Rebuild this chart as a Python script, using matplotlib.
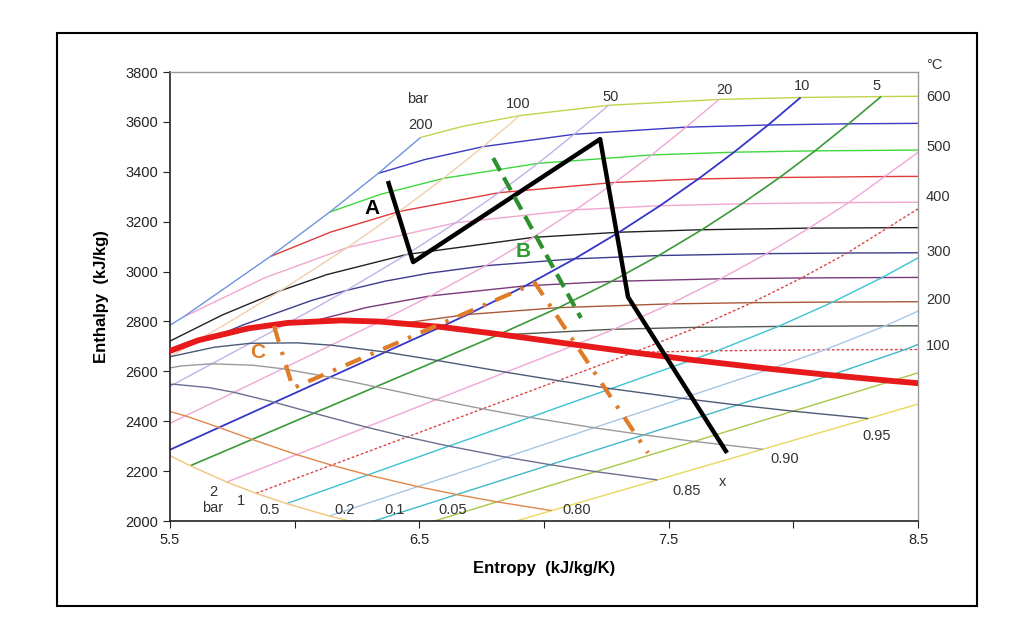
import matplotlib
matplotlib.use("Agg")
import matplotlib.pyplot as plt
from matplotlib.patches import Rectangle

plt.rcParams['font.family'] = ['Liberation Sans', 'DejaVu Sans']

# (entropy kJ/kg/K, enthalpy kJ/kg) points

# saturated vapour line, x = 1
sat_line = [(5.3098, 2610.5), (5.6141, 2724.7), (5.8133, 2772.1), (5.9734, 2794.3),
            (6.1869, 2804.2), (6.3409, 2799.5), (6.5865, 2778.1), (6.8213, 2748.7),
            (7.1271, 2706.7), (7.3594, 2675.5), (7.5939, 2645.9), (7.9085, 2609.7),
            (8.1502, 2584.7), (8.3951, 2561.5), (8.7235, 2533.6)]

# dryness fraction lines
q95 = [(5.2285, 2560.5), (5.5013, 2658.8), (5.6787, 2696.8), (5.8207, 2712.3), (6.0098, 2714.3),
       (6.1462, 2705.0), (6.3641, 2677.3), (6.5733, 2643.3), (6.8473, 2596.5), (7.0566, 2562.6),
       (7.2688, 2530.6), (7.5548, 2491.8), (7.7752, 2465.0), (7.9992, 2440.3), (8.3004, 2410.7)]
q90 = [(5.1472, 2510.5), (5.3886, 2593.0), (5.5441, 2621.6), (5.6681, 2630.3), (5.8328, 2624.5),
       (5.9516, 2610.4), (6.1417, 2576.6), (6.3252, 2537.9), (6.5674, 2486.4), (6.7537, 2449.7),
       (6.9436, 2415.4), (7.2009, 2373.9), (7.4001, 2345.3), (7.6032, 2319.1), (7.8772, 2287.7)]
q85 = [(5.2758, 2527.1), (5.4095, 2546.3), (5.5154, 2548.3), (5.6557, 2534.7), (5.7569, 2515.9),
       (5.9193, 2475.8), (6.0772, 2432.4), (6.2876, 2376.3), (6.4509, 2336.8), (6.6185, 2300.1),
       (6.8471, 2256.0), (7.0251, 2225.7), (7.2073, 2197.9), (7.4541, 2164.7)]
q80 = [(5.3628, 2466.3), (5.4787, 2445.0), (5.5622, 2421.4), (5.6969, 2375.0), (5.8292, 2327.0),
       (6.0077, 2266.2), (6.1480, 2223.9), (6.2933, 2184.8), (6.4933, 2138.0), (6.6500, 2106.0),
       (6.8114, 2076.8), (7.0309, 2041.7)]
q75 = [(5.3016, 2355.2), (5.3675, 2326.8), (5.4746, 2274.3), (5.5812, 2221.6), (5.7279, 2156.1),
       (5.8452, 2111.0), (5.9682, 2069.6), (6.1395, 2020.1), (6.2750, 1986.4)]

# isobars (bar)
p200 = [(5.5, 2785.0), (5.554, 2818.1), (5.902, 3060.1), (6.140, 3238.2), (6.335, 3393.5), (6.505, 3537.6)]
p100 = [(5.3886, 2593.0), (5.6141, 2724.7), (5.7568, 2809.1), (5.944, 2923.4), (6.212, 3096.5),
        (6.419, 3240.9), (6.597, 3373.7), (6.756, 3500.9), (6.903, 3625.3)]
p50 = [(5.3628, 2466.3), (5.9734, 2794.3), (6.0544, 2838.3), (6.208, 2924.5), (6.449, 3068.4),
       (6.646, 3195.7), (6.819, 3316.2), (6.976, 3433.8), (7.121, 3550.3), (7.259, 3666.5)]
p20 = [(5.3675, 2326.8), (6.3409, 2799.5), (6.4147, 2836.6), (6.545, 2902.5), (6.766, 3023.5),
       (6.956, 3137.0), (7.127, 3247.6), (7.285, 3357.5), (7.432, 3467.6), (7.570, 3579.0), (7.702, 3690.1)]
p10 = [(5.4746, 2274.3), (6.5865, 2778.1), (6.694, 2827.9), (6.925, 2942.6), (7.123, 3051.2),
       (7.301, 3157.7), (7.465, 3263.9), (7.619, 3371.3), (7.762, 3478.5), (7.899, 3587.6), (8.029, 3697.9)]
p5 = [(5.5812, 2221.6), (6.8213, 2748.7), (7.059, 2855.4), (7.271, 2960.7), (7.460, 3064.2),
      (7.633, 3167.7), (7.794, 3271.9), (7.945, 3377.1), (8.087, 3483.9), (8.222, 3592.4), (8.352, 3701.7)]
p2 = [(5.7279, 2156.1), (7.1271, 2706.7), (7.280, 2768.8), (7.507, 2870.5), (7.709, 2971.0),
      (7.893, 3071.8), (8.063, 3174.1), (8.222, 3276.6), (8.513, 3487.1)]
p1 = [(5.8452, 2111.0), (7.3594, 2675.5), (7.614, 2776.4), (7.834, 2875.3), (8.033, 2974.3),
      (8.216, 3074.3), (8.543, 3278.2)]
p05 = [(5.9682, 2069.6), (7.5939, 2645.9), (7.695, 2682.5), (7.940, 2780.1), (8.158, 2877.7),
       (8.356, 2976.0), (8.538, 3075.5)]
p02 = [(6.1395, 2020.1), (7.9085, 2609.7), (8.126, 2686.2), (8.3685, 2782.3), (8.585, 2879.5)]
p01 = [(6.2750, 1986.4), (8.1502, 2584.7), (8.449, 2687.5), (8.689, 2783.0)]
p005 = [(6.4154, 1955.6), (8.3951, 2561.5), (8.4986, 2593.5), (8.77, 2688.0)]
p002 = [(6.6078, 1918.7), (8.7235, 2533.6)]

# isotherms (deg C)
t600 = [(6.505, 3537.6), (6.678, 3583.1), (6.903, 3625.3), (7.259, 3666.5), (7.702, 3690.1),
        (8.029, 3697.9), (8.352, 3701.7), (8.777, 3704.3)]
t550 = [(6.335, 3393.5), (6.520, 3448.6), (6.756, 3500.9), (7.121, 3550.3), (7.570, 3579.0),
        (7.899, 3587.6), (8.222, 3592.4), (8.65, 3595.0)]
t500 = [(6.140, 3238.2), (6.348, 3310.8), (6.597, 3373.7), (6.976, 3433.8), (7.432, 3467.6),
        (7.762, 3478.5), (8.087, 3483.9), (8.513, 3487.1)]
t450 = [(5.902, 3060.1), (6.143, 3157.8), (6.419, 3240.9), (6.819, 3316.2), (7.285, 3357.5),
        (7.619, 3371.3), (7.945, 3377.1), (8.37, 3381.0), (8.69, 3382.5)]
t400 = [(5.554, 2818.1), (5.881, 2975.4), (6.212, 3096.5), (6.646, 3195.7), (7.127, 3247.6),
        (7.465, 3263.9), (7.794, 3271.9), (8.222, 3276.6), (8.543, 3278.2)]
t350 = [(5.2112, 2563.9), (5.4421, 2692.4), (5.710, 2826.0), (5.944, 2923.4), (6.130, 2988.1),
        (6.449, 3068.4), (6.956, 3137.0), (7.301, 3157.7), (7.633, 3167.7), (8.063, 3174.1),
        (8.39, 3175.8), (8.71, 3176.6)]
t300 = [(5.7045, 2749.0), (5.7906, 2785.0), (6.0682, 2884.2), (6.208, 2924.5), (6.3639, 2961.7),
        (6.539, 2993.5), (6.766, 3023.5), (7.123, 3051.2), (7.460, 3064.2), (7.893, 3071.8),
        (8.216, 3074.3), (8.538, 3075.5)]
t250 = [(6.0730, 2801.0), (6.2872, 2855.8), (6.545, 2902.5), (6.925, 2942.6), (7.271, 2960.7),
        (7.709, 2971.0), (8.033, 2974.3), (8.356, 2976.0), (8.68, 2977.0)]
t200 = [(6.4323, 2792.8), (6.694, 2827.9), (7.059, 2855.4), (7.507, 2870.5), (7.834, 2875.3),
        (8.158, 2877.7), (8.585, 2879.5)]
t150 = [(6.8379, 2746.5), (7.280, 2768.8), (7.614, 2776.4), (7.940, 2780.1), (8.3685, 2782.3), (8.689, 2783.0)]
t100 = [(7.3549, 2676.1), (7.695, 2682.5), (8.126, 2686.2), (8.449, 2687.5), (8.77, 2688.0)]

# process paths
path_a = [(6.374, 3363), (6.475, 3038), (7.225, 3531), (7.337, 2898), (7.734, 2273)]
path_b = [(6.796, 3455), (7.148, 2814)]
path_c = [(5.917, 2782), (5.993, 2533), (6.964, 2954), (7.417, 2273)]

temp_labels = [600, 500, 400, 300, 200, 100]
temp_label_h = [3700, 3500, 3300, 3080, 2885, 2700]


def draw(ax, pts, color, lw=1.0, ls='-', z=2):
    s = [p[0] for p in pts]
    h = [p[1] for p in pts]
    return ax.plot(s, h, color=color, lw=lw, ls=ls, zorder=z, solid_capstyle='butt')[0]


fig = plt.figure(figsize=(10.24, 6.30), dpi=100)
fig.patches.append(Rectangle((0.0557, 0.038), 0.898, 0.9095, transform=fig.transFigure,
                             fill=False, edgecolor='black', lw=1.5))
ax = fig.add_axes([0.166, 0.173, 0.7305, 0.7127])

# isotherms
draw(ax, t600, '#c3d34a')
draw(ax, t550, '#3a3ac4')
draw(ax, t500, '#3fd83f')
draw(ax, t450, '#e03a3a')
draw(ax, t400, '#f2a6cf')
draw(ax, t350, '#222222')
draw(ax, t300, '#3c3c8c')
draw(ax, t250, '#7a3a7a')
draw(ax, t200, '#a8583a')
draw(ax, t150, '#505a50')
draw(ax, t100, '#d84848', ls=(0, (2, 1.5)))

# isobars
draw(ax, p200, '#6f93e0')
draw(ax, p100, '#efcfae')
draw(ax, p50, '#c3b0ea')
draw(ax, p20, '#f0a6d6')
draw(ax, p10, '#3535c8', lw=1.3)
draw(ax, p5, '#3a9a3a', lw=1.2)
draw(ax, p2, '#f0a6d8')
draw(ax, p1, '#d84848', ls=(0, (2, 1.5)))
draw(ax, p05, '#3cc2d2')
draw(ax, p02, '#a9c6e8')
draw(ax, p01, '#3fb8c8')
draw(ax, p005, '#a6c84a')
draw(ax, p002, '#e8d85a')

# dryness fraction lines
draw(ax, q95, '#4b5a76')
draw(ax, q90, '#9a9a9a')
draw(ax, q85, '#6b7090')
draw(ax, q80, '#e0874a')
draw(ax, q75, '#f0c57a')

draw(ax, sat_line, '#e8191b', lw=4.2, z=3)

draw(ax, path_a, 'black', lw=3.2, z=4)
draw(ax, path_b, '#2e8f2e', lw=3.0, ls=(0, (3.5, 1.8)), z=4)
draw(ax, path_c, '#e07b28', lw=3.0, ls=(0, (4, 2.5, 0.8, 2.5)), z=4)

ax.text(6.31, 3251, 'A', fontsize=15, fontweight='bold', color='black', ha='center', va='center', zorder=5)
ax.text(6.916, 3079, 'B', fontsize=15, fontweight='bold', color='#2e9b2e', ha='center', va='center', zorder=5)
ax.text(5.853, 2674, 'C', fontsize=15, fontweight='bold', color='#e07b28', ha='center', va='center', zorder=5)

lab = dict(fontsize=10.5, color='#333333', ha='center', va='center', zorder=5)
ax.text(6.495, 3692, 'bar', **lab)
ax.text(6.503, 3588, '200', **lab)
ax.text(6.896, 3672, '100', **lab)
ax.text(7.269, 3700, '50', **lab)
ax.text(7.722, 3728, '20', **lab)
ax.text(8.035, 3744, '10', **lab)
ax.text(8.332, 3744, '5', **lab)
ax.text(5.672, 2117, '2', **lab)
ax.text(5.672, 2053, 'bar', **lab)
ax.text(5.785, 2081, '1', **lab)
ax.text(5.901, 2045, '0.5', **lab)
ax.text(6.202, 2045, '0.2', **lab)
ax.text(6.402, 2045, '0.1', **lab)
ax.text(6.635, 2045, '0.05', **lab)
ax.text(7.132, 2045, '0.80', **lab)
ax.text(7.570, 2121, '0.85', **lab)
ax.text(7.967, 2249, '0.90', **lab)
ax.text(8.336, 2341, '0.95', **lab)
ax.text(7.714, 2157, 'x', **lab)

ax.text(8.532, 3830, '°C', fontsize=10.5, color='#333333', ha='left', va='center', clip_on=False)
for t, h in zip(temp_labels, temp_label_h):
    ax.text(8.532, h, str(t), fontsize=10.5, color='#333333', ha='left', va='center', clip_on=False)

ax.set_xlim(5.5, 8.5)
ax.set_ylim(2000, 3800)
ax.set_xticks([5.5, 6.0, 6.5, 7.0, 7.5, 8.0, 8.5])
ax.set_xticklabels(['5.5', '', '6.5', '', '7.5', '', '8.5'])
ax.set_yticks(range(2000, 3801, 200))
ax.tick_params(labelsize=10.5, length=5, colors='#222222', direction='out')
ax.tick_params(top=False, right=False)
ax.set_xlabel('Entropy  (kJ/kg/K)', fontsize=12, fontweight='bold', labelpad=10)
ax.set_ylabel('Enthalpy  (kJ/kg)', fontsize=12, fontweight='bold', labelpad=12)
for side in ['left', 'bottom']:
    ax.spines[side].set_color('#222222')
    ax.spines[side].set_linewidth(1.2)
for side in ['top', 'right']:
    ax.spines[side].set_color('#999999')
    ax.spines[side].set_linewidth(1.0)

fig.savefig('out.png', dpi=100)
